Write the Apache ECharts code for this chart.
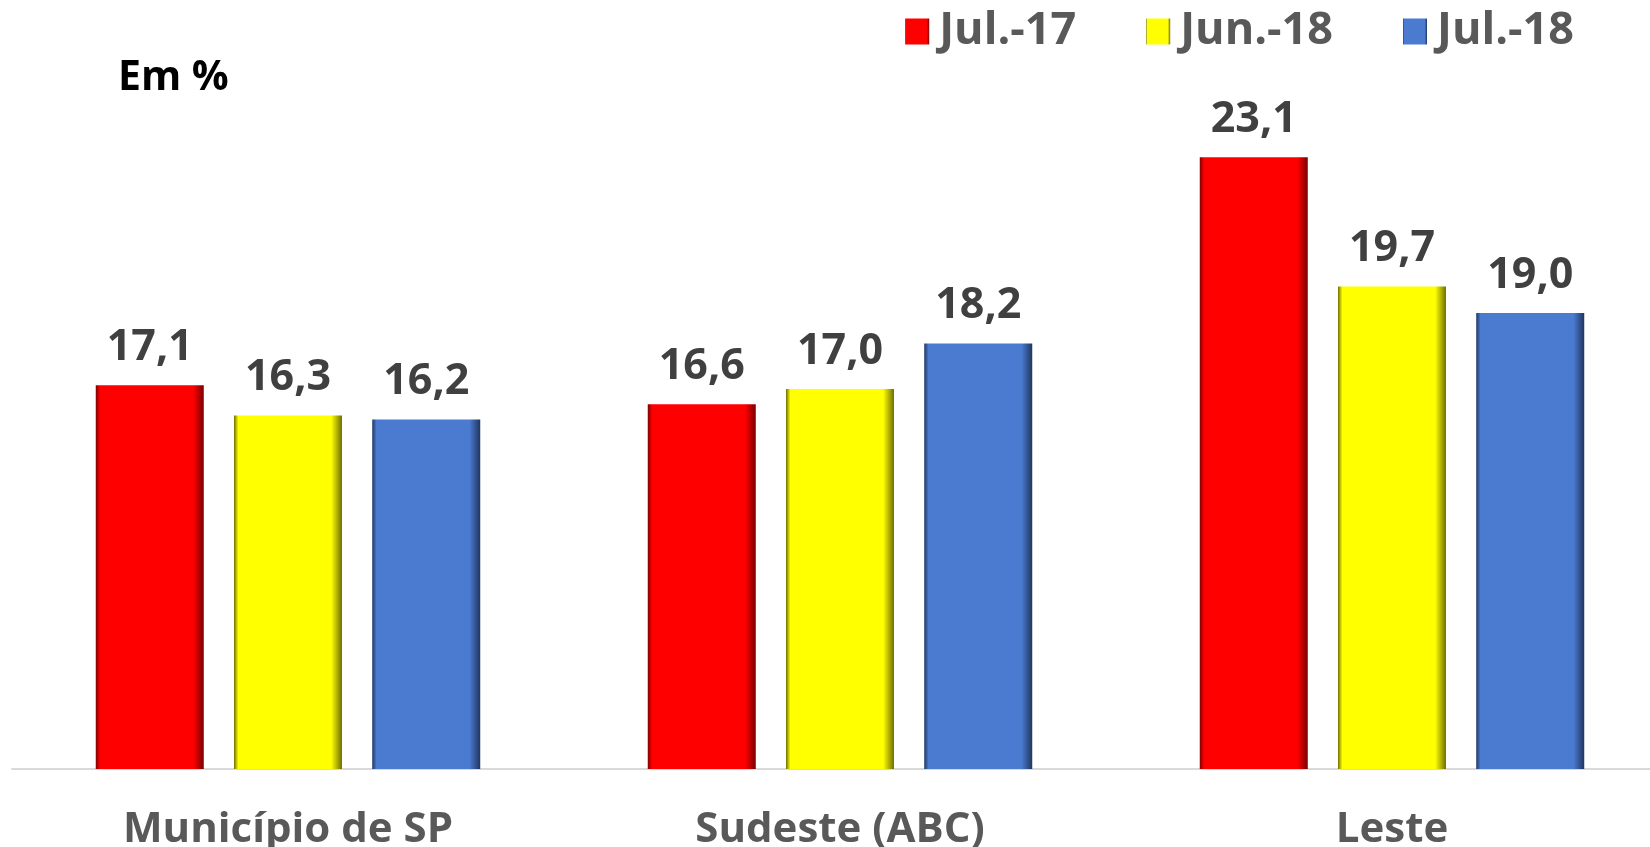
<!DOCTYPE html>
<html><head><meta charset="utf-8">
<script src="https://cdn.jsdelivr.net/npm/echarts@6/dist/echarts.min.js"></script>
<style>html,body{margin:0;padding:0;background:#fff}#c{width:1650px;height:847px}</style>
</head><body><div id="c"></div>
<script>
const categories = ['Município de SP', 'Sudeste (ABC)', 'Leste'];
const seriesNames = ['Jul.-17', 'Jun.-18', 'Jul.-18'];
const jul17 = [17.1, 16.6, 23.1];
const jun18 = [16.3, 17.0, 19.7];
const jul18 = [16.2, 18.2, 19.0];
const values = [jul17, jun18, jul18];
const baseColors = ['#FF0000', '#FFFF00', '#4A7BD0'];
const darkColors = ['#7a0000', '#6e6e00', '#1f3560'];

function grad(i) {
  return new echarts.graphic.LinearGradient(0, 0, 1, 0, [
    {offset: 0, color: darkColors[i]},
    {offset: 0.04, color: baseColors[i]},
    {offset: 0.9, color: baseColors[i]},
    {offset: 1, color: darkColors[i]}
  ]);
}
const fmt = p => p.value.toFixed(1).replace('.', ',');

const chart = echarts.init(document.getElementById('c'));
chart.setOption({
  animation: false,
  grid: {left: 12, width: 1656, top: 85, bottom: 78, containLabel: false, outerBoundsMode: 'none'},
  title: {text: 'Em %', left: 113, top: 53, textStyle: {fontFamily: 'Open Sans', fontWeight: 'bold', fontSize: 41, color: '#000'}},
  legend: {
    data: seriesNames.map((n, i) => ({name: n, icon: 'rect', itemStyle: {color: grad(i)}})),
    right: 71, top: 4, itemWidth: 24, itemHeight: 26, itemGap: 70,
    textStyle: {fontFamily: 'Open Sans', fontWeight: 'bold', fontSize: 45, color: '#595959', padding: [0, 0, 0, 5]}
  },
  xAxis: {
    type: 'category', data: categories,
    axisLine: {lineStyle: {color: '#D9D9D9', width: 2}}, axisTick: {show: false},
    axisLabel: {fontFamily: 'Open Sans', fontWeight: 'bold', fontSize: 42, color: '#595959', margin: 40}
  },
  yAxis: {type: 'value', min: 7, max: 25, show: false, splitLine: {show: false}},
  series: seriesNames.map((n, i) => ({
    name: n, type: 'bar', data: values[i], barWidth: 108, barGap: '28%',
    itemStyle: {color: grad(i)},
    label: {show: true, position: 'top', distance: 16, formatter: fmt,
      fontFamily: 'Open Sans', fontWeight: 'bold', fontSize: 43, color: '#404040'}
  }))
});
</script></body></html>
